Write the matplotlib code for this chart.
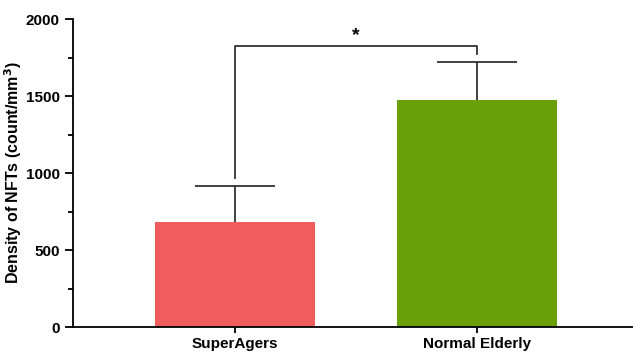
import numpy as np
import matplotlib.pyplot as plt

plt.rcParams['font.family'] = ['Liberation Sans', 'DejaVu Sans']
plt.rcParams['font.weight'] = 'bold'

groups = ['SuperAgers', 'Normal Elderly']
density = [680, 1474]
upper_err = [237, 247]
bar_colors = ['#EF5D5D', '#6AA108']
sig_label = '*'

fig = plt.figure(figsize=(6.33, 3.52), dpi=100)
ax = fig.add_axes([0.1153, 0.071, 0.8847, 0.875])

x = np.arange(len(groups))
ax.bar(x, density, 0.66, color=bar_colors, zorder=2)

# upper-only error bars
tops = np.array(density) + np.array(upper_err)
ax.vlines(x, density, tops, color='#333333', lw=1.3, zorder=3)
ax.hlines(tops, x - 0.167, x + 0.167, color='#333333', lw=1.3, zorder=3)

# significance bracket
y_br = 1827
ax.plot([x[0], x[0], x[1], x[1]], [tops[0] + 50, y_br, y_br, tops[1] + 52],
        color='#333333', lw=1.3, zorder=3)
ax.text((x[0] + x[1]) / 2, y_br + 10, sig_label, ha='center', va='bottom',
        fontsize=14, fontweight='bold')

ax.set_xlim(-0.67, 1.645)
ax.set_ylim(0, 2000)
ax.set_yticks([0, 500, 1000, 1500, 2000])
ax.set_yticks([250, 750, 1250, 1750], minor=True)
ax.set_xticks(x)
ax.set_xticklabels(groups, fontsize=11, fontweight='bold')
ax.tick_params(axis='y', labelsize=11, width=1.3, length=6)
ax.tick_params(axis='y', which='minor', width=1.3, length=3.5)
ax.tick_params(axis='x', width=1.3, length=4)
for lbl in ax.get_yticklabels():
    lbl.set_fontweight('bold')
ax.set_ylabel('Density of NFTs (count/mm$^\\mathbf{3}$)', fontsize=11.5,
              fontweight='bold', labelpad=1)

for s in ['top', 'right']:
    ax.spines[s].set_visible(False)
for s in ['left', 'bottom']:
    ax.spines[s].set_linewidth(1.3)

fig.savefig('out.png', dpi=100)
